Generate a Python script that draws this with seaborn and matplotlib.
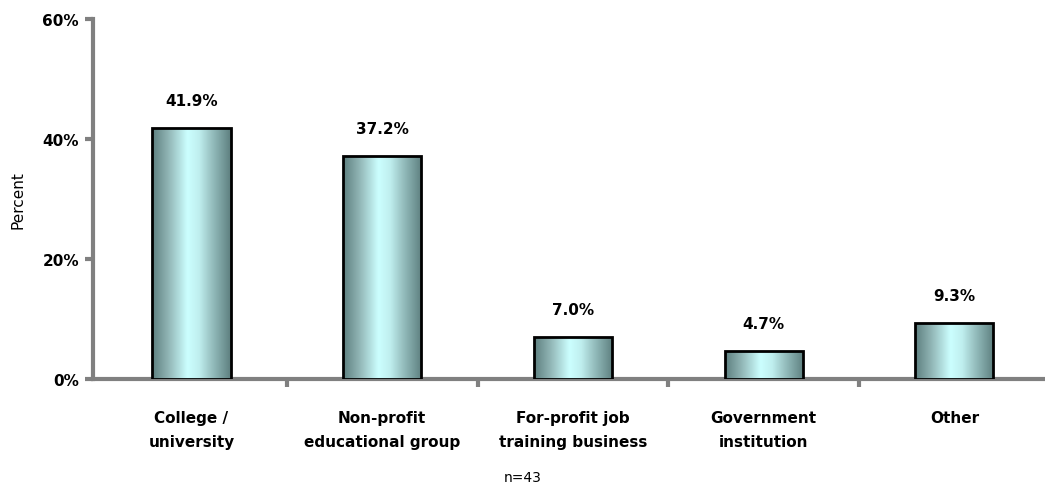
import numpy as np
import matplotlib
matplotlib.use("Agg")
import matplotlib.pyplot as plt
from matplotlib.colors import LinearSegmentedColormap
import seaborn as sns

# -----------------------------
# Data
# -----------------------------
categories = ["College /\nuniversity", "Non-profit\neducational group",
              "For-profit job\ntraining business", "Government\ninstitution", "Other"]
percents = [41.9, 37.2, 7.0, 4.7, 9.3]
y_ticks = [0, 20, 40, 60]

sns.set_style("white")
plt.rcParams['font.family'] = ['DejaVu Sans']
plt.rcParams['text.color'] = 'black'
plt.rcParams['axes.labelcolor'] = 'black'
plt.rcParams['xtick.labelcolor'] = 'black'
plt.rcParams['ytick.labelcolor'] = 'black'

fig = plt.figure(figsize=(10.45, 4.89), dpi=100)
ax = fig.add_axes([93 / 1045, 109 / 489, 1 - 93 / 1045, 360 / 489])

sns.barplot(x=categories, y=percents, ax=ax, width=0.41,
            color="#99cccc", edgecolor="black", linewidth=2, zorder=3)

# horizontal gradient fill inside each bar
grad = LinearSegmentedColormap.from_list("bar", [
    (0.0, "#5d7f7f"), (0.2, "#8fb3b3"), (0.45, "#ccffff"),
    (0.6, "#bfeeee"), (0.75, "#99c2c2"), (1.0, "#5d7f7f")])
g = np.linspace(0, 1, 256).reshape(1, -1)
for bar in ax.patches:
    x0, y0 = bar.get_x(), bar.get_y()
    w, h = bar.get_width(), bar.get_height()
    im = ax.imshow(g, cmap=grad, aspect="auto", extent=[x0, x0 + w, y0, y0 + h],
                   zorder=3.5, interpolation="bicubic")
    im.set_clip_path(bar)
    bar.set_facecolor("none")
    bar.set_zorder(4)

# value labels
for i, v in enumerate(percents):
    ax.text(i, v + 4.6, f"{v:.1f}%", ha="center", va="center",
            fontsize=11, fontweight="bold", color="black")

ax.set_ylim(0, 60)
ax.set_xlim(-0.516, 4.475)
ax.set_yticks(y_ticks)
ax.set_yticklabels([f"{t}%" for t in y_ticks], fontsize=11, fontweight="bold")
ax.set_ylabel("Percent", fontsize=11, labelpad=12)

# ticks on category boundaries
ax.set_xticks(np.arange(0.5, 4.5, 1))
ax.set_xticklabels([])
ax.set_xticks(range(len(categories)), minor=True)
ax.set_xticklabels(categories, minor=True, fontsize=11, fontweight="bold",
                   linespacing=1.75)
ax.tick_params(axis="x", which="minor", bottom=True, length=0, pad=22)
ax.tick_params(axis="x", which="major", bottom=True, length=6, width=3,
               color="#808080", direction="out")
ax.tick_params(axis="y", left=True, length=6, width=3, color="#808080",
               direction="out", pad=4)

for s in ["top", "right"]:
    ax.spines[s].set_visible(False)
for s in ["left", "bottom"]:
    ax.spines[s].set_color("#808080")
    ax.spines[s].set_linewidth(3)
ax.grid(False)

fig.text(523 / 1045, 1 - 478 / 489, "n=43", ha="center", va="center", fontsize=10)

fig.savefig("out.png", dpi=100)
